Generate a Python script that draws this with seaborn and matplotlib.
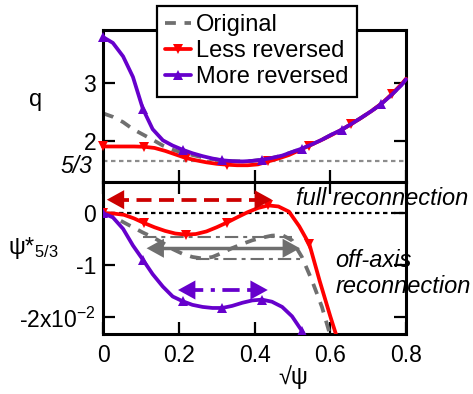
import matplotlib
matplotlib.use('Agg')
import matplotlib.pyplot as plt
import matplotlib.transforms as mtransforms
import seaborn as sns
from matplotlib.lines import Line2D

# ---------------- data ----------------
# sqrt(psi) grid for "Original" and "More reversed"
x_more = [0.000, 0.026, 0.053, 0.079, 0.105, 0.131, 0.158, 0.184, 0.210, 0.236,
          0.263, 0.289, 0.315, 0.341, 0.368, 0.394, 0.420, 0.446, 0.473, 0.499,
          0.525, 0.551, 0.578, 0.604, 0.630, 0.656, 0.683, 0.709, 0.735, 0.761,
          0.788, 0.800]
q_more = [3.78, 3.68, 3.45, 3.10, 2.56, 2.21, 2.02, 1.93, 1.86, 1.80,
          1.75, 1.71, 1.68, 1.665, 1.66, 1.67, 1.69, 1.72, 1.76, 1.82,
          1.88, 1.95, 2.03, 2.12, 2.20, 2.30, 2.41, 2.52, 2.64, 2.79,
          2.96, 3.06]
q_orig = [2.48, 2.42, 2.33, 2.21, 2.12, 2.03, 1.93, 1.86, 1.81, 1.77,
          1.73, 1.70, 1.68, 1.665, 1.66, 1.67, 1.69, 1.72, 1.76, 1.82,
          1.88, 1.95, 2.03, 2.12, 2.20, 2.30, 2.41, 2.52, 2.64, 2.79,
          2.96, 3.06]
# psi*_{5/3} in units of 1e-2
psi_more = [0.0, -0.08, -0.30, -0.62, -0.89, -1.17, -1.41, -1.60, -1.69, -1.76,
            -1.80, -1.82, -1.82, -1.78, -1.72, -1.675, -1.66, -1.70, -1.80, -1.98,
            -2.26, -2.60]
psi_orig = [0.0, -0.06, -0.17, -0.27, -0.37, -0.46, -0.57, -0.69, -0.78, -0.84,
            -0.87, -0.84, -0.76, -0.67, -0.59, -0.52, -0.47, -0.43, -0.42, -0.52,
            -0.84, -1.28, -1.80, -2.45]

# sqrt(psi) grid for "Less reversed"
x_less = [0.000, 0.027, 0.055, 0.082, 0.109, 0.136, 0.164, 0.191, 0.218, 0.245,
          0.273, 0.300, 0.327, 0.354, 0.382, 0.409, 0.436, 0.463, 0.491, 0.518,
          0.545, 0.572, 0.600, 0.627, 0.654, 0.681, 0.709, 0.736, 0.763, 0.790,
          0.800]
q_less = [1.915, 1.915, 1.915, 1.915, 1.91, 1.89, 1.84, 1.78, 1.72, 1.68,
          1.645, 1.62, 1.605, 1.595, 1.595, 1.61, 1.66, 1.71, 1.77, 1.85,
          1.93, 2.01, 2.10, 2.19, 2.29, 2.40, 2.52, 2.65, 2.81, 2.99,
          3.07]
psi_less = [0.0, -0.005, -0.03, -0.10, -0.19, -0.27, -0.34, -0.39, -0.41, -0.40,
            -0.35, -0.27, -0.18, -0.08, 0.02, 0.10, 0.15, 0.13, 0.03, -0.25,
            -0.60, -1.30, -1.98, -2.60]

series_labels = ['Original', 'Less reversed', 'More reversed']
x_ticks = [0, 0.2, 0.4, 0.6, 0.8]
x_ticklabels = ['0', '0.2', '0.4', '0.6', '0.8']
q_ticks = [2, 3]
q_ticklabels = ['2', '3']
q_ref = 5 / 3
q_ref_label = '5/3'
psi_ticks = [-2, -1, 0]
psi_ticklabels = ['-2x10$^{-2}$', '-1', '0']

# annotation arrows: (y, x_left, x_right)
arrow_full = (0.26, 0.010, 0.446)
arrow_offaxis = (-0.673, 0.115, 0.520)
arrow_more = (-1.475, 0.198, 0.435)
dashdot_upper = (-0.45, 0.105, 0.500)
dashdot_lower = (-0.87, 0.245, 0.520)

# ---------------- style ----------------
sns.set_style('white', rc={'axes.edgecolor': 'black', 'xtick.color': 'black',
                           'ytick.color': 'black', 'text.color': 'black',
                           'axes.labelcolor': 'black'})
plt.rcParams['font.family'] = ['Liberation Sans', 'DejaVu Sans']
plt.rcParams['mathtext.default'] = 'regular'
plt.rcParams['axes.linewidth'] = 2.2

GREY = '#6f6f6f'
RED = '#ff0000'
PURPLE = '#6600cc'
DARKRED = '#cc0000'
LW = 2.7
MS = 7.5
FS_TICK = 16.5
FS = 17

fig = plt.figure(figsize=(4.73, 3.94), dpi=100)
ax1 = fig.add_axes([0.2178, 0.5381, 0.6406, 0.3858])
ax2 = fig.add_axes([0.2178, 0.1523, 0.6406, 0.3858])

# ---------------- top panel: q ----------------
ax1.axhline(q_ref, color='#8c8c8c', lw=1.6, ls=(0, (2, 1.6)), zorder=1)
sns.lineplot(x=x_more, y=q_orig, ax=ax1, color=GREY, lw=LW,
             linestyle=(0, (2.9, 2.3)), zorder=2, clip_on=False)
sns.lineplot(x=x_less, y=q_less, ax=ax1, color=RED, lw=LW, marker='v',
             markevery=4, ms=MS, mew=0, zorder=3, clip_on=False)
sns.lineplot(x=x_more, y=q_more, ax=ax1, color=PURPLE, lw=LW, marker='^',
             markevery=4, ms=MS, mew=0, zorder=4, clip_on=False)
ax1.set_ylim(1.31, 3.90)

# ---------------- bottom panel: psi* ----------------
ax2.axhline(0, color='black', lw=1.6, ls=(0, (2, 1.6)), zorder=1)
sns.lineplot(x=x_more[:len(psi_orig)], y=psi_orig, ax=ax2, color=GREY, lw=LW,
             linestyle=(0, (2.9, 2.3)), zorder=2)
sns.lineplot(x=x_less[:len(psi_less)], y=psi_less, ax=ax2, color=RED, lw=LW,
             marker='v', markevery=4, ms=MS, mew=0, zorder=3)
sns.lineplot(x=x_more[:len(psi_more)], y=psi_more, ax=ax2, color=PURPLE, lw=LW,
             marker='^', markevery=4, ms=MS, mew=0, zorder=4)
ax2.set_ylim(-2.32, 0.60)

# dash-dot guide lines
for (yy, xa, xb) in (dashdot_upper, dashdot_lower):
    ax2.plot([xa, xb], [yy, yy], color=GREY, lw=1.5,
             ls=(0, (6.4, 2.4, 1.9, 2.4)), zorder=2.5)


def double_arrow(ax, spec, color, ls, lw):
    yy, xa, xb = spec
    ax.plot([xa + 0.02, xb - 0.02], [yy, yy], color=color, lw=lw, ls=ls,
            zorder=5, solid_capstyle='butt', dash_capstyle='butt')
    for tip, sign in ((xa, -1), (xb, 1)):
        ax.annotate('', xy=(tip, yy), xytext=(-sign * 13, 0),
                    textcoords='offset points',
                    arrowprops=dict(arrowstyle='-|>,head_length=1.0,head_width=0.55',
                                    mutation_scale=12.5, color=color, lw=0,
                                    shrinkA=0, shrinkB=0),
                    annotation_clip=False, zorder=6)


double_arrow(ax2, arrow_full, DARKRED, (0, (4, 2)), 2.7)
double_arrow(ax2, arrow_offaxis, GREY, '-', 2.5)
double_arrow(ax2, arrow_more, PURPLE, (0, (4.6, 2, 1.1, 2)), 2.7)

ax2.text(0.51, 0.28, 'full reconnection', style='italic', fontsize=FS,
         ha='left', va='center')
ax2.text(0.613, -0.90, 'off-axis', style='italic', fontsize=FS,
         ha='left', va='center')
ax2.text(0.613, -1.40, 'reconnection', style='italic', fontsize=FS,
         ha='left', va='center')

# ---------------- axes styling ----------------
for ax in (ax1, ax2):
    ax.set_xlim(0, 0.8)
    ax.set_xticks(x_ticks)
    ax.tick_params(direction='in', length=8.5, width=1.6, labelsize=FS_TICK,
                   right=True, left=True, pad=5)
    for s in ax.spines.values():
        s.set_linewidth(2.2)
        s.set_color('black')

ax1.tick_params(axis='x', bottom=True, top=False, labelbottom=False)
ax2.tick_params(axis='x', bottom=True, top=True, labelbottom=True, pad=7)
ax2.set_xticklabels(x_ticklabels)

ax1.set_yticks(q_ticks)
ax1.set_yticklabels(q_ticklabels)
# italic 5/3 label for the dotted reference line (no tick mark), set a bit lower
ref_tr = mtransforms.blended_transform_factory(ax1.transAxes, ax1.transData) + \
    mtransforms.ScaledTranslation(0, -5 / 100, fig.dpi_scale_trans)
ax1.text(-0.036, q_ref, q_ref_label, transform=ref_tr, style='italic',
         fontsize=FS_TICK, ha='right', va='center')

ax2.set_yticks(psi_ticks)
ax2.set_yticklabels(psi_ticklabels)

ax1.set_xlabel('')
ax1.set_ylabel('q', rotation=0, fontsize=FS, ha='center', va='center')
ax1.yaxis.set_label_coords(-0.221, 0.54)
ax2.set_ylabel('ψ*$_{5/3}$', rotation=0, fontsize=FS, ha='center', va='center')
ax2.yaxis.set_label_coords(-0.231, 0.566)
ax2.set_xlabel('√ψ', fontsize=FS, ha='center', va='center')
ax2.xaxis.set_label_coords(0.627, -0.283)

# ---------------- legend ----------------
handles = [Line2D([], [], color=GREY, lw=LW, ls=(0, (2.9, 2.3))),
           Line2D([], [], color=RED, lw=LW, marker='v', ms=MS, mew=0),
           Line2D([], [], color=PURPLE, lw=LW, marker='^', ms=MS, mew=0)]
leg = ax1.legend(handles, series_labels, loc='upper left',
                 bbox_to_anchor=(157 / 473, 1 - 6 / 394),
                 bbox_transform=fig.transFigure, frameon=True, fancybox=False,
                 framealpha=1, edgecolor='black', fontsize=FS,
                 handlelength=1.1, handletextpad=0.2, labelspacing=0.17,
                 borderpad=0.35, borderaxespad=0)
leg.get_frame().set_linewidth(1.6)
leg.set_zorder(10)

fig.savefig('out.png', dpi=100)
